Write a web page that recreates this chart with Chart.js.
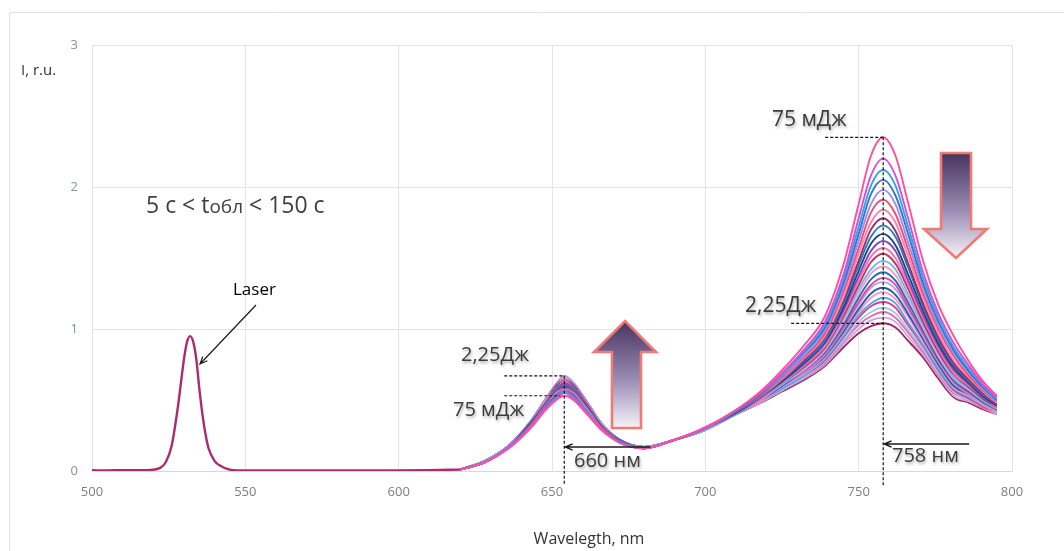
<!DOCTYPE html>
<html>
<head>
<meta charset="utf-8">
<script src="https://cdn.jsdelivr.net/npm/chart.js@4.4.1/dist/chart.umd.min.js"></script>
<style>
  html, body { margin: 0; padding: 0; background: #ffffff; }
  #wrap { width: 1064px; height: 551px; position: relative; }
</style>
</head>
<body>
<div id="wrap"><canvas id="c" width="1064" height="551"></canvas></div>
<script>
// ---- data -------------------------------------------------------------
// Laser line at 532 nm (identical for every exposure) and the flat baseline
const laserNm = [500, 505, 510, 515, 519, 522, 524, 526, 528, 529, 530, 531, 532, 533, 534, 535, 536, 537, 538, 540, 542, 544, 546, 550, 560, 580, 600, 610, 620];
const laserI  = [0.005, 0.004, 0.006, 0.005, 0.008, 0.02, 0.06, 0.18, 0.45, 0.62, 0.79, 0.91, 0.95, 0.91, 0.79, 0.58, 0.40, 0.26, 0.16, 0.07, 0.035, 0.015, 0.006, 0.004, 0.003, 0.003, 0.004, 0.006, 0.01];

// Emission spectra, 620-795 nm; first row = 75 mJ, last row = 2.25 J
const spectraNm = [620, 628, 636, 643, 648, 652, 654, 657, 661, 666, 672, 680, 690, 700, 710, 718, 725, 732, 739, 745, 750, 754, 758, 762, 766, 771, 776, 781, 786, 791, 795];
const spectra = [
  [.01,.06,.16,.30,.43,.51,.53,.50,.41,.29,.20,.16,.22,.31,.43,.56,.71,.88,1.09,1.45,1.88,2.22,2.35,2.22,1.90,1.48,1.17,.95,.77,.62,.53],
  [.01,.06,.17,.31,.44,.52,.55,.51,.42,.30,.20,.16,.22,.30,.43,.55,.69,.85,1.05,1.38,1.78,2.08,2.20,2.08,1.79,1.40,1.11,.90,.74,.60,.52],
  [.01,.06,.17,.31,.44,.53,.56,.52,.43,.30,.20,.16,.22,.30,.43,.55,.68,.84,1.03,1.35,1.72,2.01,2.12,2.01,1.73,1.36,1.08,.87,.72,.59,.51],
  [.01,.06,.17,.31,.45,.54,.56,.53,.43,.30,.21,.16,.22,.30,.42,.54,.68,.83,1.01,1.32,1.67,1.95,2.05,1.94,1.68,1.32,1.05,.85,.70,.58,.50],
  [.01,.06,.17,.31,.45,.54,.57,.53,.44,.30,.21,.16,.22,.30,.42,.54,.67,.81,.99,1.29,1.62,1.88,1.98,1.88,1.62,1.29,1.02,.83,.69,.57,.49],
  [.01,.06,.17,.32,.46,.55,.58,.54,.44,.31,.21,.16,.22,.30,.42,.53,.66,.80,.97,1.26,1.57,1.82,1.91,1.81,1.57,1.25,1.00,.81,.67,.56,.49],
  [.01,.06,.17,.32,.46,.56,.58,.55,.45,.31,.21,.16,.22,.30,.42,.53,.65,.79,.95,1.22,1.53,1.75,1.84,1.75,1.52,1.22,.97,.78,.66,.55,.48],
  [.01,.06,.17,.32,.46,.56,.59,.55,.45,.31,.21,.16,.22,.30,.42,.53,.65,.78,.94,1.20,1.48,1.70,1.78,1.69,1.47,1.18,.94,.76,.64,.54,.47],
  [.01,.06,.17,.32,.47,.57,.60,.56,.45,.31,.21,.16,.22,.30,.42,.52,.64,.77,.92,1.18,1.45,1.65,1.73,1.65,1.44,1.16,.92,.75,.63,.53,.47],
  [.01,.06,.17,.33,.47,.57,.60,.56,.46,.32,.21,.16,.22,.30,.41,.52,.63,.76,.91,1.15,1.41,1.60,1.67,1.59,1.39,1.13,.90,.73,.62,.52,.46],
  [.01,.06,.17,.33,.48,.58,.61,.57,.46,.32,.21,.16,.22,.30,.41,.52,.63,.75,.90,1.13,1.37,1.55,1.62,1.55,1.35,1.10,.88,.71,.61,.51,.46],
  [.01,.06,.17,.33,.48,.58,.61,.57,.46,.32,.21,.16,.22,.30,.41,.51,.62,.74,.88,1.11,1.34,1.51,1.57,1.50,1.32,1.08,.86,.69,.60,.51,.45],
  [.01,.06,.17,.33,.48,.59,.62,.58,.47,.32,.21,.16,.22,.30,.41,.51,.62,.73,.87,1.09,1.31,1.47,1.53,1.46,1.29,1.05,.84,.68,.59,.50,.45],
  [.01,.07,.18,.33,.48,.59,.62,.58,.47,.32,.21,.17,.22,.29,.41,.51,.61,.72,.86,1.07,1.28,1.42,1.48,1.42,1.25,1.03,.83,.66,.58,.49,.44],
  [.01,.07,.18,.33,.49,.59,.63,.58,.47,.33,.21,.17,.22,.29,.41,.50,.61,.71,.85,1.05,1.25,1.39,1.44,1.38,1.22,1.01,.81,.65,.57,.49,.44],
  [.01,.07,.18,.34,.49,.60,.63,.59,.48,.33,.22,.17,.22,.29,.41,.50,.60,.71,.84,1.03,1.22,1.35,1.40,1.34,1.19,.99,.79,.64,.56,.48,.44],
  [.01,.07,.18,.34,.49,.60,.64,.59,.48,.33,.22,.17,.22,.29,.41,.50,.60,.70,.83,1.01,1.19,1.31,1.36,1.31,1.16,.97,.78,.63,.55,.48,.43],
  [.01,.07,.18,.34,.49,.60,.64,.59,.48,.33,.22,.17,.22,.29,.41,.50,.59,.69,.82,1.00,1.17,1.29,1.33,1.28,1.14,.95,.77,.62,.54,.47,.43],
  [.01,.07,.18,.34,.49,.61,.64,.60,.48,.33,.22,.17,.22,.29,.41,.50,.59,.69,.81,.98,1.14,1.25,1.29,1.24,1.11,.93,.75,.60,.54,.47,.43],
  [.01,.07,.18,.34,.50,.61,.65,.60,.49,.33,.22,.17,.22,.29,.41,.49,.59,.68,.80,.97,1.12,1.22,1.26,1.21,1.09,.91,.74,.59,.53,.46,.42],
  [.01,.07,.18,.34,.50,.61,.65,.60,.49,.33,.22,.17,.22,.29,.40,.49,.58,.67,.79,.95,1.10,1.18,1.22,1.18,1.05,.89,.72,.58,.52,.46,.42],
  [.01,.07,.18,.34,.50,.62,.65,.61,.49,.33,.22,.17,.22,.29,.40,.49,.58,.67,.78,.94,1.08,1.16,1.19,1.15,1.03,.88,.71,.57,.51,.45,.42],
  [.01,.07,.18,.35,.50,.62,.66,.61,.49,.34,.22,.17,.22,.29,.40,.49,.57,.66,.77,.92,1.05,1.12,1.15,1.11,1.00,.86,.69,.56,.50,.45,.41],
  [.01,.07,.18,.35,.50,.62,.66,.61,.50,.34,.22,.17,.22,.29,.40,.49,.57,.66,.76,.91,1.03,1.09,1.12,1.08,.98,.84,.68,.55,.50,.44,.41],
  [.01,.07,.18,.35,.51,.63,.67,.62,.50,.34,.22,.17,.22,.29,.40,.48,.57,.65,.75,.89,1.00,1.06,1.08,1.05,.95,.82,.67,.53,.49,.44,.40],
  [.01,.07,.18,.35,.51,.63,.67,.62,.50,.34,.22,.17,.22,.29,.40,.48,.56,.64,.74,.87,.97,1.02,1.04,1.01,.92,.80,.65,.52,.48,.43,.40]
];

const xTickValues = [500, 550, 600, 650, 700, 750, 800];
const yTickValues = [0, 1, 2, 3];

// ---- styling ----------------------------------------------------------
const lineColors = [
  '#ff4fa0', '#e14bd3', '#2fa8e0', '#3a6fd4', '#9d8cf0', '#f0506c', '#ff7fb6',
  '#9b2c68', '#1f80bf', '#26407f', '#7c4cbf', '#ff6fae', '#c43062', '#6fb6ec',
  '#f39bc4', '#1c6fb5', '#e2479b', '#b4a2f0', '#2d5aa8', '#ff8fbf', '#58a8e6',
  '#d8418a', '#9fc8f2', '#e86aa8', '#c9a6e6', '#a3265a'
];
const FONT = "'Open Sans', 'DejaVu Sans', sans-serif";

const toPoints = (xs, ys) => xs.map((x, k) => ({ x, y: ys[k] }));

const datasets = [{
  label: 'Laser',
  data: toPoints(laserNm, laserI),
  borderColor: '#ad2a70',
  borderWidth: 2.4,
  cubicInterpolationMode: 'monotone',
  pointRadius: 0
}].concat(spectra.map((row, i) => ({
  label: 'spectrum ' + (i + 1),
  data: toPoints(spectraNm, row),
  borderColor: lineColors[i],
  borderWidth: 1.9,
  cubicInterpolationMode: 'monotone',
  pointRadius: 0
})));

// wavelength and height of the highest point of a spectrum in [lo, hi]
function peakOf(values, lo, hi) {
  let best = null;
  spectraNm.forEach((nm, k) => {
    if (nm >= lo && nm <= hi && (!best || values[k] > best.value)) best = { nm, value: values[k] };
  });
  return best;
}

// ---- drawing helpers --------------------------------------------------
function dashed(ctx, x1, y1, x2, y2) {
  ctx.save();
  ctx.setLineDash([3, 2]);
  ctx.strokeStyle = '#151515';
  ctx.lineWidth = 1.2;
  ctx.beginPath();
  ctx.moveTo(x1, y1);
  ctx.lineTo(x2, y2);
  ctx.stroke();
  ctx.restore();
}

function pointer(ctx, x1, y1, x2, y2, width) {
  ctx.save();
  ctx.strokeStyle = '#1a1a1a';
  ctx.lineWidth = width;
  ctx.beginPath();
  ctx.moveTo(x1, y1);
  ctx.lineTo(x2, y2);
  const a = Math.atan2(y2 - y1, x2 - x1);
  const h = 8;
  ctx.moveTo(x2 - h * Math.cos(a - 0.4), y2 - h * Math.sin(a - 0.4));
  ctx.lineTo(x2, y2);
  ctx.lineTo(x2 - h * Math.cos(a + 0.4), y2 - h * Math.sin(a + 0.4));
  ctx.stroke();
  ctx.restore();
}

function text(ctx, str, x, y, size, color, shadow, align) {
  ctx.save();
  ctx.font = size + 'px ' + FONT;
  ctx.fillStyle = color;
  ctx.textAlign = align || 'left';
  ctx.textBaseline = 'alphabetic';
  if (shadow) {
    ctx.shadowColor = 'rgba(0,0,0,0.35)';
    ctx.shadowBlur = 3;
    ctx.shadowOffsetX = 1;
    ctx.shadowOffsetY = 1.5;
  }
  ctx.fillText(str, x, y);
  ctx.restore();
}

function blockArrow(ctx, pts, yDark, yLight) {
  ctx.save();
  const g = ctx.createLinearGradient(0, yDark, 0, yLight);
  g.addColorStop(0, '#46345e');
  g.addColorStop(0.55, '#9b8cb4');
  g.addColorStop(1, '#f6f3f9');
  ctx.beginPath();
  pts.forEach((p, k) => (k ? ctx.lineTo(p[0], p[1]) : ctx.moveTo(p[0], p[1])));
  ctx.closePath();
  ctx.fillStyle = g;
  ctx.fill();
  ctx.lineWidth = 2.6;
  ctx.lineJoin = 'miter';
  ctx.strokeStyle = '#f27a76';
  ctx.stroke();
  ctx.restore();
}

// ---- annotations ------------------------------------------------------
const annotations = {
  id: 'annotations',
  afterDatasetsDraw(chart) {
    const { ctx, scales: { x, y } } = chart;
    const axisY = y.getPixelForValue(0);

    // peak markers, taken from the first (75 mJ) and last (2.25 J) spectra
    const first = spectra[0];
    const last = spectra[spectra.length - 1];
    const redLow = peakOf(first, 640, 670);
    const redHigh = peakOf(last, 640, 670);
    const nirHigh = peakOf(first, 730, 790);
    const nirLow = peakOf(last, 730, 790);

    const xRed = x.getPixelForValue(redHigh.nm);
    const xNir = x.getPixelForValue(nirHigh.nm);

    dashed(ctx, xRed, y.getPixelForValue(redHigh.value), xRed, axisY + 14);
    dashed(ctx, xRed - 60, y.getPixelForValue(redHigh.value), xRed, y.getPixelForValue(redHigh.value));
    dashed(ctx, xRed - 60, y.getPixelForValue(redLow.value), xRed - 4, y.getPixelForValue(redLow.value));

    dashed(ctx, xNir, y.getPixelForValue(nirHigh.value), xNir, axisY + 15);
    dashed(ctx, xNir - 58, y.getPixelForValue(nirHigh.value), xNir, y.getPixelForValue(nirHigh.value));
    dashed(ctx, xNir - 92, y.getPixelForValue(nirLow.value), xNir, y.getPixelForValue(nirLow.value));

    pointer(ctx, xRed + 86, 447, xRed + 1, 447, 1.4);
    pointer(ctx, xNir + 86, 444, xNir + 1, 444, 1.4);

    // energy / wavelength labels
    text(ctx, '2,25Дж', 461, 361, 20, '#3c3c3c', true);
    text(ctx, '75 мДж', 453, 416, 20, '#3c3c3c', true);
    text(ctx, '660 нм', 574, 467, 20, '#3c3c3c', true);
    text(ctx, '75 мДж', 772, 126, 21, '#3c3c3c', true);
    text(ctx, '2,25Дж', 745, 312, 21, '#3c3c3c', true);
    text(ctx, '758 нм', 892, 462, 20, '#3c3c3c', true);

    // laser callout
    text(ctx, 'Laser', 233, 295, 17, '#000000', false);
    pointer(ctx, 256, 305, 200, 364, 1.2);

    // exposure time range
    ctx.save();
    ctx.font = '23px ' + FONT;
    const part1 = '5 с < t';
    const w1 = ctx.measureText(part1).width;
    ctx.font = '19px ' + FONT;
    const w2 = ctx.measureText('обл').width;
    ctx.restore();
    text(ctx, part1, 146, 213, 23, '#404040', false);
    text(ctx, 'обл', 146 + w1, 213, 19, '#404040', false);
    text(ctx, ' < 150 с', 146 + w1 + w2, 213, 23, '#404040', false);

    // growth / decay arrows
    blockArrow(ctx, [[625, 321], [656, 352], [641, 352], [641, 428], [612, 428], [612, 352], [594, 352]], 321, 428);
    blockArrow(ctx, [[941, 153], [971, 153], [971, 229], [987, 229], [956, 258], [924, 229], [941, 229]], 153, 258);
  },
  afterDraw(chart) {
    const { ctx } = chart;
    // outer frame
    ctx.save();
    ctx.strokeStyle = '#e2e2e2';
    ctx.lineWidth = 1;
    ctx.beginPath();
    ctx.moveTo(9.5, 551);
    ctx.lineTo(9.5, 12.5);
    ctx.lineTo(1064, 12.5);
    ctx.stroke();
    ctx.restore();
    // axis titles
    text(ctx, 'I, r.u.', 21, 75, 15, '#333333', false);
    text(ctx, 'Wavelegth, nm', 589, 544, 16, '#333333', false, 'center');
  }
};

new Chart(document.getElementById('c'), {
  type: 'line',
  data: { datasets },
  options: {
    responsive: false,
    animation: false,
    devicePixelRatio: 1,
    layout: { padding: { left: 0, top: 45, right: 52, bottom: 0 } },
    plugins: { legend: { display: false }, tooltip: { enabled: false }, title: { display: false } },
    elements: { point: { radius: 0 } },
    scales: {
      x: {
        type: 'linear',
        min: 500,
        max: 800,
        afterFit: s => { s.height = 80; },
        afterBuildTicks: s => { s.ticks = xTickValues.map(v => ({ value: v })); },
        grid: { color: '#e4e4e4', lineWidth: 1, drawTicks: false },
        border: { color: '#d8d8d8', width: 1 },
        ticks: { padding: 13, color: '#7f7f7f', maxRotation: 0, font: { family: FONT, size: 13 } }
      },
      y: {
        type: 'linear',
        min: 0,
        max: 3,
        afterFit: s => { s.width = 92; },
        afterBuildTicks: s => { s.ticks = yTickValues.map(v => ({ value: v })); },
        grid: { color: '#e4e4e4', lineWidth: 1, drawTicks: false },
        border: { color: '#e4e4e4', width: 1 },
        ticks: { padding: 14, color: '#85929e', font: { family: FONT, size: 13 } }
      }
    }
  },
  plugins: [annotations]
});
</script>
</body>
</html>
